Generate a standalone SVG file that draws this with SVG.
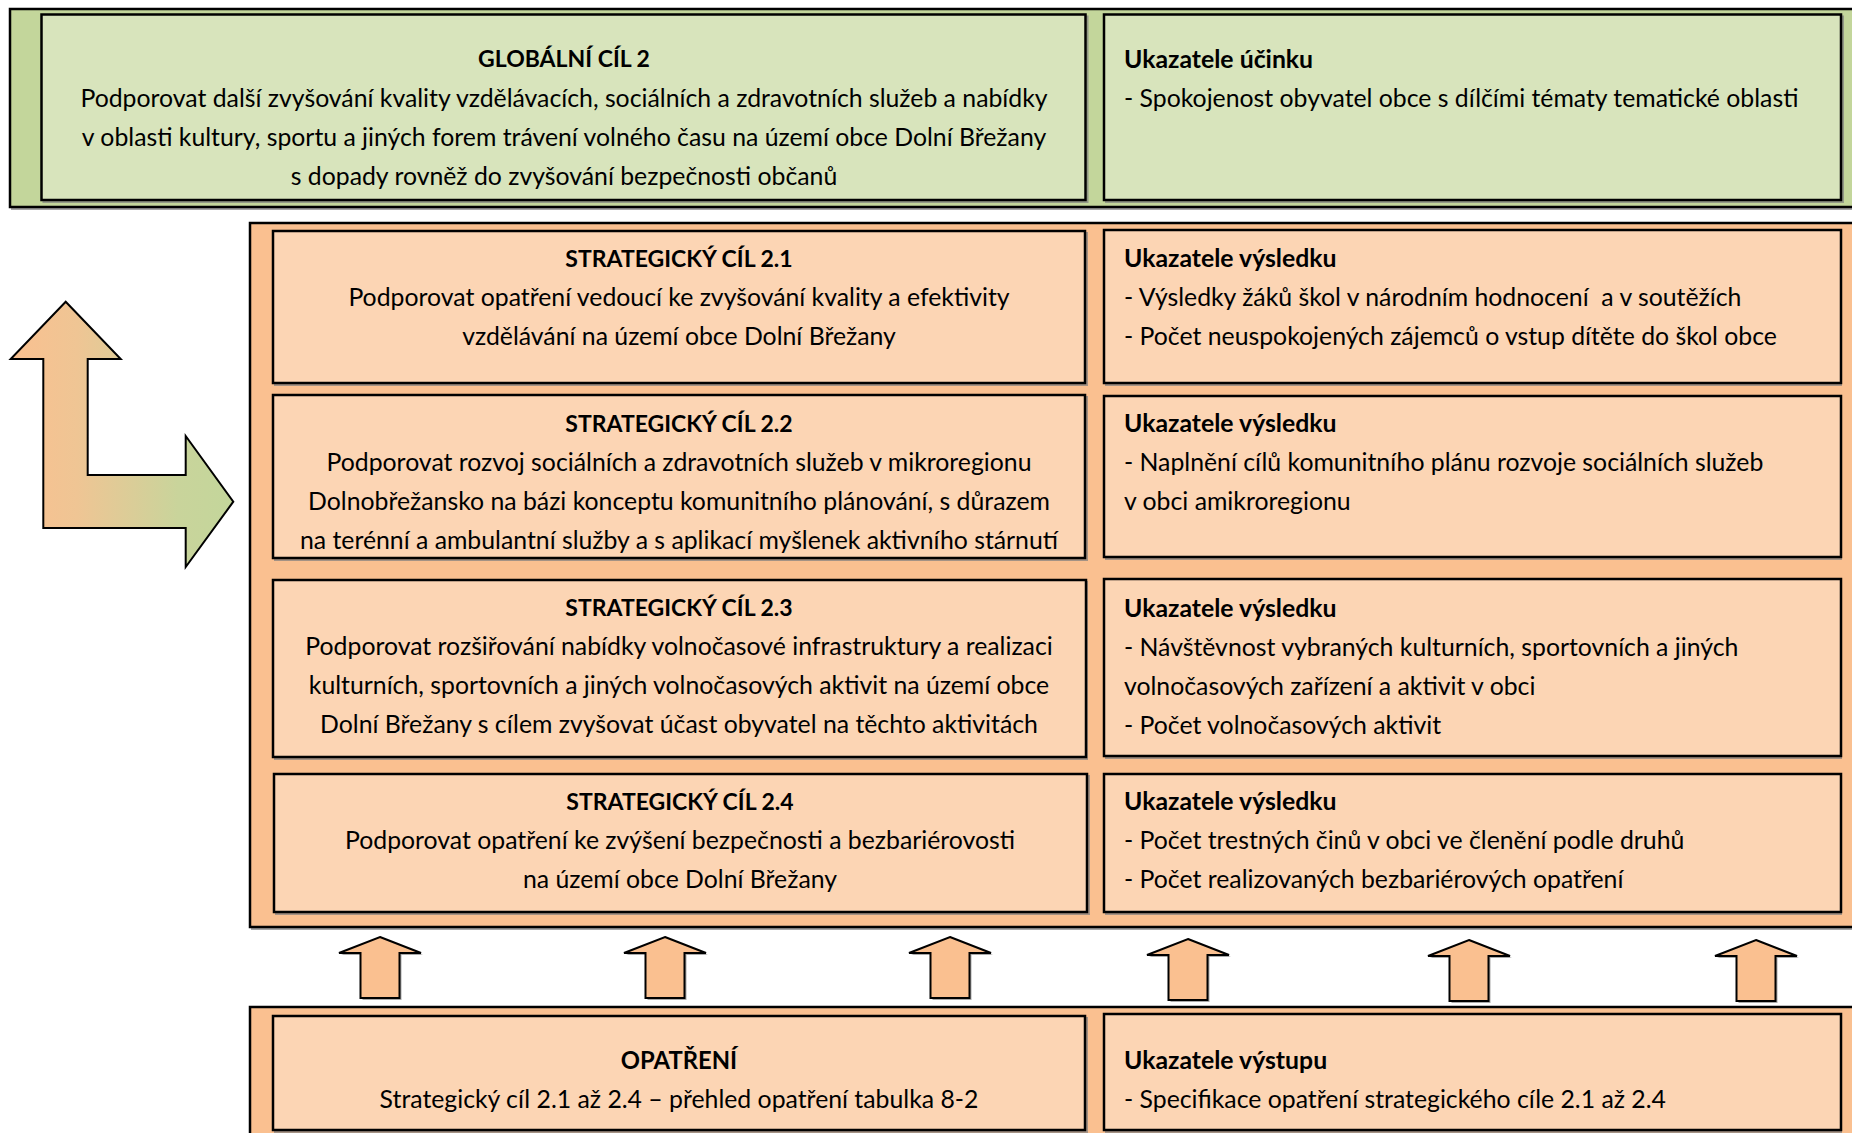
<svg xmlns="http://www.w3.org/2000/svg" width="1852" height="1133" viewBox="0 0 1852 1133">
<style>
.t{font-family:Lato,"Open Sans","Liberation Sans",sans-serif;font-size:24.8px;fill:#000}
.b{font-weight:bold}
.cap{font-size:23px}
.c{text-anchor:middle}
.bandG{fill:#C3D69B;stroke:#000;stroke-width:2.5}
.boxG{fill:#D8E4BC;stroke:#000;stroke-width:2.5}
.bandO{fill:#FAC090;stroke:#000;stroke-width:2.5}
.boxO{fill:#FCD5B4;stroke:#000;stroke-width:2.5}
.sh{fill:none;stroke:#7f7f7f;stroke-width:2;opacity:.7}
.arr{fill:#FAC090;stroke:#000;stroke-width:2}
</style>
<defs>
<linearGradient id="lg" x1="10" y1="0" x2="234" y2="0" gradientUnits="userSpaceOnUse">
<stop offset="0" stop-color="#FAC090"/>
<stop offset="0.3" stop-color="#EFC594"/>
<stop offset="0.75" stop-color="#C9D49B"/>
<stop offset="1" stop-color="#C3D69B"/>
</linearGradient>
<path id="up" d="M0,0 L41,16 L19.5,16 L19.5,61 L-19.5,61 L-19.5,16 L-41,16 Z"/>
</defs>
<rect width="1852" height="1133" fill="#fff"/>

<g id="band-global">
<rect class="sh" x="12" y="11" width="1850" height="198"/>
<rect class="bandG" x="10" y="9" width="1850" height="198"/>
</g>
<g id="band-strategic">
<rect class="sh" x="252" y="225" width="1610" height="704"/>
<rect class="bandO" x="250" y="223" width="1610" height="704"/>
</g>
<g id="band-measures">
<rect class="sh" x="252" y="1009" width="1610" height="140"/>
<rect class="bandO" x="250" y="1007" width="1610" height="140"/>
</g>

<g id="global-goal">
<rect class="sh" x="43.5" y="16.5" width="1044" height="185.5"/>
<rect class="boxG" x="41.5" y="14.5" width="1044" height="185.5"/>
<text class="t b cap c" x="564" y="67">GLOBÁLNÍ CÍL 2</text>
<text class="t c" x="564" y="107">Podporovat další zvyšování kvality vzdělávacích, sociálních a zdravotních služeb a nabídky</text>
<text class="t c" x="564" y="146">v oblasti kultury, sportu a jiných forem trávení volného času na území obce Dolní Břežany</text>
<text class="t c" x="564" y="185">s dopady rovněž do zvyšování bezpečnosti občanů</text>
</g>
<g id="impact-indicators">
<rect class="sh" x="1106" y="16.5" width="737" height="185.5"/>
<rect class="boxG" x="1104" y="14.5" width="737" height="185.5"/>
<text class="t b" x="1124" y="68">Ukazatele účinku</text>
<text class="t" x="1124" y="107">- Spokojenost obyvatel obce s dílčími tématy tematické oblasti</text>
</g>

<g id="sc21">
<rect class="sh" x="275" y="233" width="812" height="152"/>
<rect class="boxO" x="273" y="231" width="812" height="152"/>
<text class="t b cap c" x="679" y="267">STRATEGICKÝ CÍL 2.1</text>
<text class="t c" x="679" y="306">Podporovat opatření vedoucí ke zvyšování kvality a efektivity</text>
<text class="t c" x="679" y="345">vzdělávání na území obce Dolní Břežany</text>
</g>
<g id="res21">
<rect class="sh" x="1106" y="232" width="735" height="153"/>
<rect class="boxO" x="1104" y="230" width="737" height="153"/>
<text class="t b" x="1124" y="267">Ukazatele výsledku</text>
<text class="t" x="1124" y="306" xml:space="preserve">- Výsledky žáků škol v národním hodnocení  a v soutěžích</text>
<text class="t" x="1124" y="345">- Počet neuspokojených zájemců o vstup dítěte do škol obce</text>
</g>

<g id="sc22">
<rect class="sh" x="275" y="397" width="812" height="163"/>
<rect class="boxO" x="273" y="395" width="812" height="163"/>
<text class="t b cap c" x="679" y="432">STRATEGICKÝ CÍL 2.2</text>
<text class="t c" x="679" y="471">Podporovat rozvoj sociálních a zdravotních služeb v mikroregionu</text>
<text class="t c" x="679" y="510">Dolnobřežansko na bázi konceptu komunitního plánování, s důrazem</text>
<text class="t c" x="679" y="549">na terénní a ambulantní služby a s aplikací myšlenek aktivního stárnutí</text>
</g>
<g id="res22">
<rect class="sh" x="1106" y="398" width="735" height="161"/>
<rect class="boxO" x="1104" y="396" width="737" height="161"/>
<text class="t b" x="1124" y="432">Ukazatele výsledku</text>
<text class="t" x="1124" y="471">- Naplnění cílů komunitního plánu rozvoje sociálních služeb</text>
<text class="t" x="1124" y="510">v obci amikroregionu</text>
</g>

<g id="sc23">
<rect class="sh" x="275" y="582" width="812" height="177"/>
<rect class="boxO" x="273" y="580" width="813" height="177"/>
<text class="t b cap c" x="679" y="616">STRATEGICKÝ CÍL 2.3</text>
<text class="t c" x="679" y="655">Podporovat rozšiřování nabídky volnočasové infrastruktury a realizaci</text>
<text class="t c" x="679" y="694">kulturních, sportovních a jiných volnočasových aktivit na území obce</text>
<text class="t c" x="679" y="733">Dolní Břežany s cílem zvyšovat účast obyvatel na těchto aktivitách</text>
</g>
<g id="res23">
<rect class="sh" x="1106" y="581" width="735" height="177"/>
<rect class="boxO" x="1104" y="579" width="737" height="177"/>
<text class="t b" x="1124" y="617">Ukazatele výsledku</text>
<text class="t" x="1124" y="656">- Návštěvnost vybraných kulturních, sportovních a jiných</text>
<text class="t" x="1124" y="695">volnočasových zařízení a aktivit v obci</text>
<text class="t" x="1124" y="734">- Počet volnočasových aktivit</text>
</g>

<g id="sc24">
<rect class="sh" x="276" y="776" width="813" height="138"/>
<rect class="boxO" x="274" y="774" width="813" height="138"/>
<text class="t b cap c" x="680" y="810">STRATEGICKÝ CÍL 2.4</text>
<text class="t c" x="680" y="849">Podporovat opatření ke zvýšení bezpečnosti a bezbariérovosti</text>
<text class="t c" x="680" y="888">na území obce Dolní Břežany</text>
</g>
<g id="res24">
<rect class="sh" x="1106" y="776" width="735" height="138"/>
<rect class="boxO" x="1104" y="774" width="737" height="138"/>
<text class="t b" x="1124" y="810">Ukazatele výsledku</text>
<text class="t" x="1124" y="849">- Počet trestných činů v obci ve členění podle druhů</text>
<text class="t" x="1124" y="888">- Počet realizovaných bezbariérových opatření</text>
</g>

<g id="measures">
<rect class="sh" x="275" y="1018" width="812" height="114"/>
<rect class="boxO" x="273" y="1016" width="812" height="114"/>
<text class="t b c" x="679" y="1069" style="font-size:23.8px">OPATŘENÍ</text>
<text class="t c" x="679" y="1108">Strategický cíl 2.1 až 2.4 – přehled opatření tabulka 8-2</text>
</g>
<g id="output-indicators">
<rect class="sh" x="1106" y="1016" width="735" height="116"/>
<rect class="boxO" x="1104" y="1014" width="737" height="116"/>
<text class="t b" x="1124" y="1069">Ukazatele výstupu</text>
<text class="t" x="1124" y="1108">- Specifikace opatření strategického cíle 2.1 až 2.4</text>
</g>

<g id="connectors">
<path d="M43.3,528 L43.3,359 L10.7,359 L65.7,301.7 L120.7,359 L87.7,359 L87.7,475 L185.7,475 L185.7,436 L233.3,501.7 L185.7,567 L185.7,528 Z" fill="url(#lg)" stroke="#000" stroke-width="2"/>
<g fill="#555" opacity=".5">
<use href="#up" x="382" y="939"/>
<use href="#up" x="667" y="939"/>
<use href="#up" x="952" y="939"/>
<use href="#up" x="1190" y="941"/>
<use href="#up" x="1471" y="942"/>
<use href="#up" x="1758" y="942"/>
</g>
<g class="arr">
<use href="#up" x="380" y="937"/>
<use href="#up" x="665" y="937"/>
<use href="#up" x="950" y="937"/>
<use href="#up" x="1188" y="939"/>
<use href="#up" x="1469" y="940"/>
<use href="#up" x="1756" y="940"/>
</g>
</g>
</svg>
